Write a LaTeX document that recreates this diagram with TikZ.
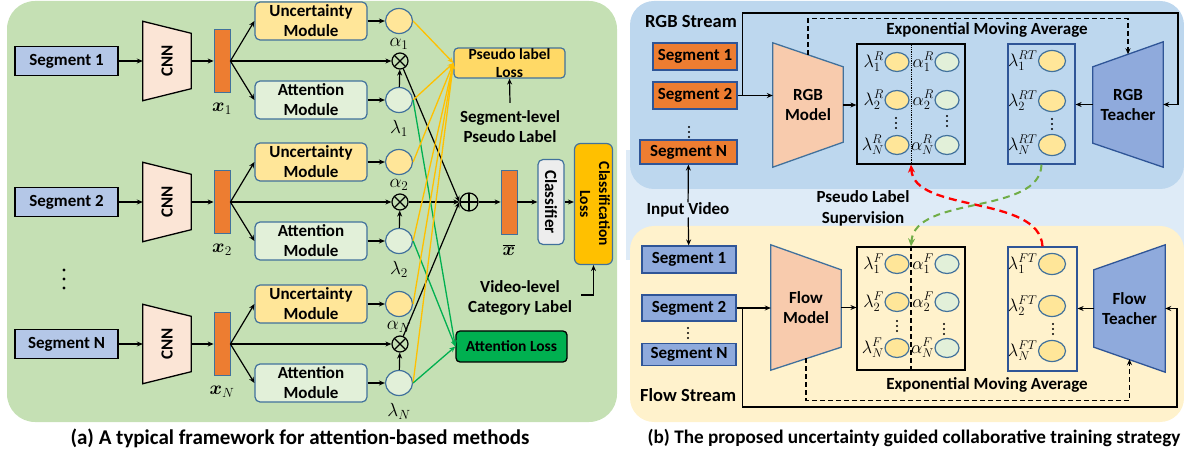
\RequirePackage{fix-cm}
\documentclass[tikz,border=0pt]{standalone}
\usepackage{fontspec}
\setmainfont{Carlito}
\usepackage{bm}
\usetikzlibrary{arrows.meta,calc,shapes.geometric}
\pgfdeclarelayer{back}
\pgfdeclarelayer{mid}
\pgfsetlayers{back,mid,main}

\definecolor{panelgreen}{HTML}{C5E0B4}
\definecolor{rgbblue}{HTML}{BDD7EE}
\definecolor{bandblue}{HTML}{DEEBF7}
\definecolor{flowyellow}{HTML}{FFF2CC}
\definecolor{segblue}{HTML}{B4C7E7}
\definecolor{cnnpeach}{HTML}{FBE5D6}
\definecolor{featorange}{HTML}{ED7D31}
\definecolor{edgeblue}{HTML}{41719C}
\definecolor{uncyellow}{HTML}{FFE699}
\definecolor{attgreen}{HTML}{E2F0D9}
\definecolor{clsgray}{HTML}{EDEDED}
\definecolor{lossgold}{HTML}{FFC000}
\definecolor{pseudoyellow}{HTML}{FFD966}
\definecolor{attloss}{HTML}{00B050}
\definecolor{modelpeach}{HTML}{F8CBAD}
\definecolor{teacherblue}{HTML}{8FAADC}
\definecolor{teacheredge}{HTML}{2F5597}
\definecolor{linkyellow}{HTML}{FFC000}
\definecolor{linkgreen}{HTML}{00B050}
\definecolor{dashred}{HTML}{FF0000}
\definecolor{dashgreen}{HTML}{70AD47}

\tikzset{
  txt/.style={font=\bfseries\fontsize{17}{20}\selectfont, inner sep=0pt, align=center},
  smalltxt/.style={font=\bfseries\fontsize{15.5}{18}\selectfont, inner sep=0pt, align=center},
  streamtxt/.style={font=\bfseries\fontsize{18.5}{20}\selectfont, inner sep=0pt, anchor=west},
  mth/.style={font=\fontsize{19}{19}\selectfont, inner sep=0.3pt},
  mthb/.style={font=\fontsize{18}{18}\selectfont, inner sep=0.3pt, anchor=east},
  bigdot/.style={fill=black, circle, inner sep=0pt, minimum size=3.2pt},
  smalldot/.style={fill=black, circle, inner sep=0pt, minimum size=2.2pt},
  arr/.style={-{Stealth[length=6pt,width=5pt]}, line width=1.2pt},
  dasharr/.style={arr, dash pattern=on 5pt off 3pt},
  segbox/.style={txt, draw=black, line width=1.4pt, fill=segblue, minimum width=103pt, minimum height=29pt},
  rsegbox/.style={txt, draw=teacheredge, line width=1.2pt, fill=featorange, minimum height=27pt},
  fsegbox/.style={txt, draw=teacheredge, line width=1.2pt, fill=teacherblue, minimum width=94pt},
  trapline/.style={line width=1.3pt},
  featbar/.style={draw=edgeblue, line width=0.8pt, fill=featorange, minimum width=16pt, minimum height=63pt, inner sep=0pt},
  modbox/.style={txt, draw=edgeblue, line width=1.2pt, rounded corners=5pt, minimum width=112pt, minimum height=38pt},
  blob/.style={ellipse, draw=edgeblue, line width=1.2pt, minimum width=27pt, minimum height=25pt, inner sep=0pt},
  sblob/.style={ellipse, draw=edgeblue, line width=1.2pt, minimum width=24pt, minimum height=19pt, inner sep=0pt},
  tblob/.style={ellipse, draw=edgeblue, line width=1.2pt, minimum width=27pt, minimum height=21pt, inner sep=0pt, fill=uncyellow},
  otimes/.style={circle, draw, line width=1.2pt, minimum size=16pt, inner sep=0pt,
    path picture={\draw[line width=1.2pt] (path picture bounding box.north west) -- (path picture bounding box.south east)
      (path picture bounding box.north east) -- (path picture bounding box.south west);}},
  oplus/.style={circle, draw, line width=1.2pt, minimum size=18pt, inner sep=0pt,
    path picture={\draw[line width=1.2pt] (path picture bounding box.north) -- (path picture bounding box.south)
      (path picture bounding box.west) -- (path picture bounding box.east);}},
  yellowlink/.style={-{Stealth[length=6pt,width=5pt]}, line width=1.3pt, draw=linkyellow},
  greenlink/.style={-{Stealth[length=6pt,width=5pt]}, line width=1.3pt, draw=linkgreen},
  outbox/.style={draw=black, line width=1.2pt, inner sep=0pt},
  toutbox/.style={draw=teacheredge, line width=1.2pt, inner sep=0pt},
  reddash/.style={-{Stealth[length=8pt,width=7pt]}, line width=2.3pt, draw=dashred, dash pattern=on 8pt off 5pt},
  greendash/.style={-{Stealth[length=8pt,width=7pt]}, line width=2pt, draw=dashgreen, dash pattern=on 7pt off 5pt},
}

\begin{document}
\begin{tikzpicture}[x=1pt,y=-1pt]
\useasboundingbox (0,0) rectangle (1184,454);

% ---------- panel backgrounds ----------
\begin{pgfonlayer}{back}
  \fill[panelgreen, rounded corners=28pt] (7,1) rectangle (617,422);
  \fill[bandblue] (626,150) rectangle (1184,260);
  \fill[rgbblue, rounded corners=24pt] (630,1) rectangle (1184,189);
  \fill[flowyellow, rounded corners=24pt] (630,226) rectangle (1184,422);
\end{pgfonlayer}

% ---------- (a) per-segment branches ----------
\foreach \r/\y/\k in {1/61/1, 2/202/2, 3/344/N}{
  \node[segbox] (seg\r) at (66.5,\y) {Segment \k};
  \node[txt, minimum width=48pt, minimum height=79pt] (cnn\r) at (167,\y) {\rotatebox{90}{CNN}};
  \begin{pgfonlayer}{mid}
    \draw[trapline, fill=cnnpeach] (cnn\r.north west) -- ($(cnn\r.north east)+(0,12)$)
      -- ($(cnn\r.south east)+(0,-12)$) -- (cnn\r.south west) -- cycle;
  \end{pgfonlayer}
  \node[featbar] (bar\r) at (222,\y) {};
  \node[mth] (xl\r) at (222,\y+48) {$\bm{x}_{\k}$};
  \node[modbox, fill=uncyellow] (unc\r) at (311,\y-40) {Uncertainty\\Module};
  \node[modbox, fill=attgreen] (att\r) at (311,\y+39) {Attention\\Module};
  \node[blob, fill=uncyellow] (alp\r) at (399,\y-40) {};
  \node[blob, fill=attgreen] (lam\r) at (399,\y+39) {};
  \node[mth] (alpl\r) at (399,\y-17) {$\alpha_{\k}$};
  \node[mth] (laml\r) at (399,\y+67) {$\lambda_{\k}$};
  \node[otimes] (mul\r) at (400,\y) {};
  \draw[arr] (seg\r) -- (cnn\r);
  \draw[arr] (cnn\r) -- (bar\r);
  \draw[arr] (bar\r.east) -- (unc\r.west);
  \draw[arr] (bar\r.east) -- (att\r.west);
  \draw[arr] (bar\r.east) -- (mul\r);
  \draw[arr] (unc\r) -- (alp\r);
  \draw[arr] (att\r) -- (lam\r);
  \draw[arr] (lam\r) -- (mul\r);
}
% vertical ellipsis between the segment rows
\foreach \d/\y in {1/270, 2/279, 3/288} \node[bigdot] (adot\d) at (64,\y) {};

% ---------- (a) aggregation and losses ----------
\node[oplus] (plus) at (469,202) {};
\foreach \r in {1,2,3} \draw[arr] (mul\r) -- (plus.west);
\node[featbar, minimum height=64pt] (xbar) at (509,202) {};
\node[mth] (xbarl) at (509,250) {$\overline{\bm{x}}$};
\node[txt, draw=edgeblue, line width=1.2pt, rounded corners=5pt, fill=clsgray,
  minimum width=26pt, minimum height=85pt] (cls) at (551,202) {\rotatebox{-90}{Classifier}};
\node[font=\bfseries\fontsize{15.5}{19}\selectfont, inner sep=0pt, draw=edgeblue, line width=1.2pt,
  rounded corners=6pt, fill=lossgold, minimum width=35pt, minimum height=121pt] (closs) at (593.5,204)
  {\rotatebox{-90}{\begin{tabular}{@{}c@{}}Classification\\Loss\end{tabular}}};
\draw[arr] (plus.east) -- (xbar.west);
\draw[arr] (xbar.east) -- (cls.west);
\draw[arr] (cls.east) -- (closs.west |- cls.east);

\node[smalltxt, draw=edgeblue, line width=1.2pt, rounded corners=4pt, fill=pseudoyellow,
  minimum width=111pt, minimum height=30pt] (pl) at (509.5,63) {Pseudo label\\Loss};
\node[txt] (segpl) at (510,127) {Segment-level\\Pseudo Label};
\draw[arr] ([yshift=8pt]segpl.north) -- (pl.south);

\node[smalltxt, draw=black, line width=1.3pt, rounded corners=4pt, fill=attloss,
  minimum width=111pt, minimum height=31pt] (al) at (511.5,346.5) {Attention Loss};

\node[txt] (vid) at (520,298) {Video-level\\Category Label};
\draw[arr] ([xshift=9pt,yshift=3pt]vid.east) -| (closs.south);

\foreach \r in {1,2,3}{
  \draw[yellowlink] (alp\r.east) -- (pl.west);
  \draw[yellowlink] (lam\r.east) -- (pl.west);
  \draw[greenlink] (lam\r.east) -- (al.west);
}

\node[font=\bfseries\fontsize{21}{24}\selectfont, inner sep=0pt] (capa) at (300,438)
  {(a) A typical framework for attention-based methods};

% ---------- (b) RGB stream ----------
\node[streamtxt] (rgbst) at (645,22) {RGB Stream};
\node[rsegbox, minimum width=84pt] (rs1) at (695,56.5) {Segment 1};
\node[rsegbox, minimum width=84pt] (rs2) at (695,95.5) {Segment 2};
\node[rsegbox, minimum width=97pt, minimum height=24pt] (rsN) at (688.5,152) {Segment N};
\foreach \d/\y in {1/127, 2/132, 3/137} \node[smalldot] (rdot\d) at (689,\y) {};

\node[txt, minimum width=70pt, minimum height=124pt] (rgbm) at (808,105) {RGB\\Model};
\node[txt, minimum width=70pt, minimum height=125pt] (rgbT) at (1128,104.5) {RGB\\Teacher};
\begin{pgfonlayer}{mid}
  \draw[trapline, draw=edgeblue, fill=modelpeach] (rgbm.north west) -- ($(rgbm.north east)+(0,24)$)
    -- ($(rgbm.south east)+(0,-25)$) -- (rgbm.south west) -- cycle;
  \draw[trapline, draw=teacheredge, fill=teacherblue] ($(rgbT.north west)+(0,25)$) -- (rgbT.north east)
    -- (rgbT.south east) -- ($(rgbT.south west)+(0,-24)$) -- cycle;
\end{pgfonlayer}

\node[outbox, minimum width=108pt, minimum height=120pt] (rout) at (911,104) {};
\draw[densely dotted, line width=0.8pt] (rout.north) -- (rout.south);
\node[toutbox, minimum width=67pt, minimum height=120pt] (rTo) at (1041.5,104) {};
\foreach \i/\y/\k in {1/62/1, 2/100/2, 3/145/N}{
  \node[sblob, fill=uncyellow] (rl\i) at (897,\y) {};
  \node[mthb] (rll\i) at (rl\i.west) {$\lambda^{R}_{\k}$};
  \node[sblob, fill=attgreen] (ra\i) at (947,\y) {};
  \node[mthb] (ral\i) at (ra\i.west) {$\alpha^{R}_{\k}$};
}
\foreach \i/\y/\k in {1/61/1, 2/101/2, 3/145/N}{
  \node[tblob] (rt\i) at (1052,\y) {};
  \node[mthb] (rtl\i) at (rt\i.west) {$\lambda^{RT}_{\k}$};
}
\foreach \d/\y in {1/118, 2/123, 3/128}{
  \node[smalldot] (rdl\d) at (896,\y) {};
  \node[smalldot] (rda\d) at (947,\y-2) {};
  \node[smalldot] (rdt\d) at (1052,\y+1) {};
}

\draw[arr] (rs2.east) -- (rs2.east -| rgbm.west);
\draw[arr] (rgbm.east) -- (rgbm.east -| rout.west);
\draw[arr] (rgbT.west) -- (rgbT.west -| rTo.east);
\coordinate (rbr) at ($(rs2.east)+(5,0)$);
\coordinate (rloop) at (1178,13);
\draw[arr] (rbr) |- (rloop) |- (rgbT.east);
\coordinate (rmtop) at ($(rgbm.north)+(0,12)$);
\coordinate (rTtop) at ($(rgbT.north)+(0,12.5)$);
\draw[dasharr] (rmtop) -- ++(0,-36) -| (rTtop);
\node[txt] (ema1) at (987,30) {Exponential Moving Average};

% ---------- (b) input and supervision ----------
\node[txt] (inv) at (688,210) {Input Video};
\node[font=\bfseries\fontsize{17}{21}\selectfont, inner sep=0pt, align=center] (pls) at (863,208) {Pseudo Label\\Supervision};

% ---------- (b) Flow stream ----------
\node[fsegbox, minimum height=27pt] (fs1) at (689,259.5) {Segment 1};
\node[fsegbox, minimum height=26pt] (fs2) at (689,308) {Segment 2};
\node[fsegbox, minimum height=22pt] (fsN) at (689,354.5) {Segment N};
\foreach \d/\y in {1/328, 2/333, 3/338} \node[smalldot] (fdot\d) at (688,\y) {};
\node[streamtxt] (flowst) at (640,395) {Flow Stream};
\draw[arr] (inv) -- (rsN);
\draw[arr] (inv) -- (fs1);

\node[txt, minimum width=70pt, minimum height=125pt] (fm) at (806,307.5) {Flow\\Model};
\node[txt, minimum width=71pt, minimum height=127pt] (fT) at (1129.5,308.5) {Flow\\Teacher};
\begin{pgfonlayer}{mid}
  \draw[trapline, draw=edgeblue, fill=modelpeach] (fm.north west) -- ($(fm.north east)+(0,25)$)
    -- ($(fm.south east)+(0,-23)$) -- (fm.south west) -- cycle;
  \draw[trapline, draw=teacheredge, fill=teacherblue] ($(fT.north west)+(0,25)$) -- (fT.north east)
    -- (fT.south east) -- ($(fT.south west)+(0,-25)$) -- cycle;
\end{pgfonlayer}

\node[outbox, minimum width=108pt, minimum height=123pt] (fout) at (911,308.5) {};
\draw[dash pattern=on 5pt off 3pt, line width=1.3pt] (fout.north) -- (fout.south);
\node[toutbox, minimum width=69pt, minimum height=124pt] (fTo) at (1042.5,309) {};
\foreach \i/\y/\k in {1/264/1, 2/302/2, 3/348/N}{
  \node[sblob, fill=uncyellow] (fl\i) at (897,\y) {};
  \node[mthb] (fll\i) at (fl\i.west) {$\lambda^{F}_{\k}$};
  \node[sblob, fill=attgreen] (fa\i) at (947,\y) {};
  \node[mthb] (fal\i) at (fa\i.west) {$\alpha^{F}_{\k}$};
}
\foreach \i/\y/\k in {1/264/1, 2/306/2, 3/351/N}{
  \node[tblob] (ft\i) at (1052,\y) {};
  \node[mthb] (ftl\i) at (ft\i.west) {$\lambda^{FT}_{\k}$};
}
\foreach \d/\y in {1/321, 2/326, 3/331}{
  \node[smalldot] (fdl\d) at (897,\y) {};
  \node[smalldot] (fda\d) at (944,\y+3) {};
  \node[smalldot] (fdt\d) at (1053,\y+3) {};
}

\draw[arr] (fs2.east) -- (fs2.east -| fm.west);
\draw[arr] (fm.east) -- (fm.east -| fout.west);
\draw[arr] (fT.west) -- (fT.west -| fTo.east);
\coordinate (fbr) at ($(fs2.east)+(6,0)$);
\coordinate (floop) at (1177,407);
\draw[arr] (fbr) |- (floop) |- (fT.east);
\coordinate (fmbot) at ($(fm.south)+(0,-12)$);
\coordinate (fTbot) at ($(fT.south)+(0,-13)$);
\draw[dasharr] (fmbot) -- ++(0,42) -| (fTbot);
\node[txt] (ema2) at (987,385) {Exponential Moving Average};

% ---------- cross-stream pseudo-label supervision ----------
\draw[reddash] (fTo.north) .. controls +(-3,-52) and +(3,49) .. (rout.south);
\draw[greendash] (rTo.south) .. controls +(-1.5,51) and +(4,-52) .. (fout.north);

\node[font=\bfseries\fontsize{19.2}{22}\selectfont, inner sep=0pt] (capb) at (914,438)
  {(b) The proposed uncertainty guided collaborative training strategy};
\end{tikzpicture}
\end{document}
